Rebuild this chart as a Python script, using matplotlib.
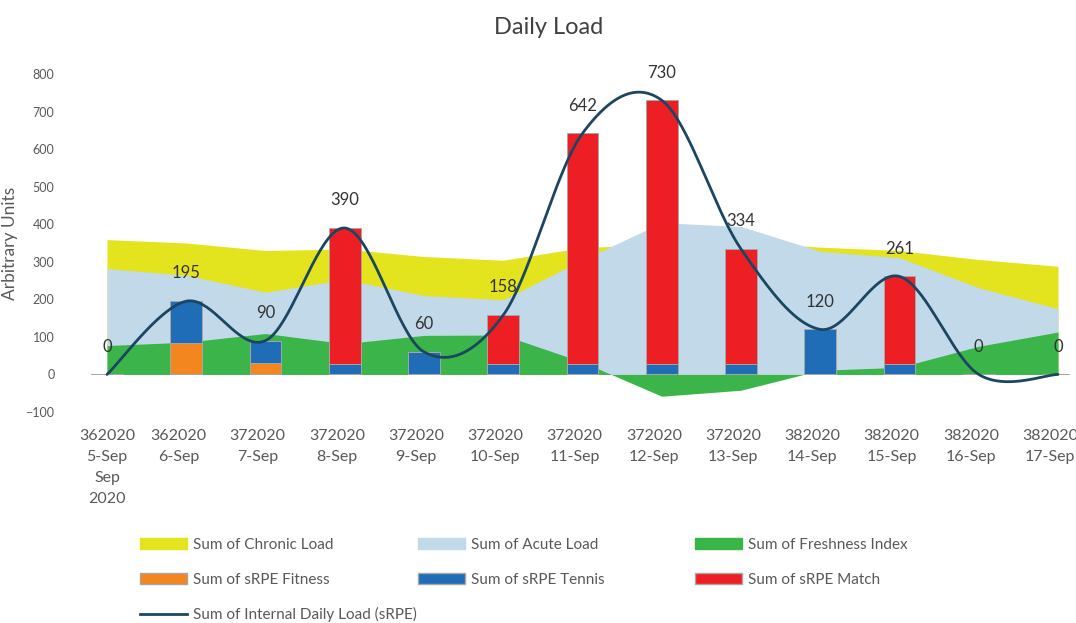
import numpy as np
import matplotlib.pyplot as plt
from matplotlib.patches import Patch
from matplotlib.lines import Line2D

plt.rcParams['font.family'] = ['Lato', 'DejaVu Sans']

##### data
days = ['5-Sep', '6-Sep', '7-Sep', '8-Sep', '9-Sep', '10-Sep', '11-Sep',
        '12-Sep', '13-Sep', '14-Sep', '15-Sep', '16-Sep', '17-Sep']
weeks = ['362020', '362020', '372020', '372020', '372020', '372020', '372020',
         '372020', '372020', '382020', '382020', '382020', '382020']
chronic = [359, 350, 330, 334, 314, 304, 338, 346, 352, 339, 330, 306, 288]
acute = [282, 264, 219, 253, 210, 199, 305, 404, 394, 328, 311, 231, 175]
freshness = [77, 86, 109, 82, 104, 105, 33, -58, -42, 11, 19, 75, 113]
fitness = [0, 85, 30, 0, 0, 0, 0, 0, 0, 0, 0, 0, 0]
tennis = [0, 110, 60, 28, 60, 28, 28, 28, 28, 120, 28, 0, 0]
match = [0, 0, 0, 362, 0, 130, 614, 702, 306, 0, 233, 0, 0]
internal = [0, 195, 90, 390, 60, 158, 642, 730, 334, 120, 261, 0, 0]

c_chronic = '#e3e31e'
c_acute = '#c1d9e8'
c_fresh = '#3bb54a'
c_fit = '#f4861f'
c_ten = '#1f6db6'
c_match = '#ee1f24'
c_line = '#1b4662'
grey = '#595959'


def excel_smooth(x, y, n=40):
    # bezier smoothing like excel's "smoothed line"
    x = np.asarray(x, float)
    y = np.asarray(y, float)
    px = np.concatenate([[x[0]], x, [x[-1]]])
    py = np.concatenate([[y[0]], y, [y[-1]]])
    t = np.linspace(0, 1, n)
    xs, ys = [], []
    for i in range(len(y) - 1):
        out = []
        for p, a in ((px, x), (py, y)):
            p0, p3 = a[i], a[i + 1]
            c1 = p0 + (p[i + 2] - p[i]) / 6
            c2 = p3 - (p[i + 3] - p[i + 1]) / 6
            out.append((1 - t)**3 * p0 + 3 * (1 - t)**2 * t * c1
                       + 3 * (1 - t) * t**2 * c2 + t**3 * p3)
        xs.append(out[0])
        ys.append(out[1])
    return np.concatenate(xs), np.concatenate(ys)


W, H = 1076, 623
fig = plt.figure(figsize=(W / 100, H / 100), dpi=100)
ax = fig.add_axes([60 / W, 1 - 412 / H, (1070 - 60) / W, (412 - 74) / H])

x = np.arange(len(days))
ax.fill_between(x, 0, chronic, color=c_chronic, lw=0, zorder=1)
ax.fill_between(x, 0, acute, color=c_acute, lw=0, zorder=2)
ax.fill_between(x, 0, freshness, color=c_fresh, lw=0, zorder=3)

bw = 0.4
ek = dict(edgecolor='#a6a6a6', linewidth=0.7, zorder=4)
ax.bar(x, fitness, bw, color=c_fit, **ek)
ax.bar(x, tennis, bw, bottom=fitness, color=c_ten, **ek)
ax.bar(x, match, bw, bottom=np.add(fitness, tennis), color=c_match, **ek)

sx, sy = excel_smooth(x, internal)
ax.plot(sx, sy, color=c_line, lw=2, zorder=5, solid_capstyle='round')

for xi, v in zip(x, internal):
    ax.annotate(str(v), (xi, v), xytext=(0, 20), textcoords='offset points',
                ha='center', va='center', fontsize=12, color='#333333', zorder=6)

sp = 79.25
ax.set_xlim((60 - 107) / sp, (1070 - 107) / sp)
ax.set_ylim(-100, 800)
ax.set_yticks(range(-100, 801, 100))
labels = [w + '\n' + d for w, d in zip(weeks, days)]
labels[0] = labels[0] + '\nSep\n2020'
# excel draws the category labels a little left of the points
ax.set_xticks([0] + [xi - 0.1 for xi in x[1:]])
ax.set_xticklabels(labels, fontsize=11.5, color=grey, linespacing=1.65)
ax.tick_params(axis='x', length=0, pad=12)
ax.tick_params(axis='y', length=0, pad=4, labelsize=9, labelcolor=grey)
for s in ax.spines.values():
    s.set_visible(False)
ax.set_ylabel('Arbitrary Units', fontsize=12.5, color=grey)
ax.yaxis.set_label_coords((18 - 60) / (1070 - 60), 0.5)

fig.text(549 / W, 1 - 28 / H, 'Daily Load', ha='center', va='center',
         fontsize=17, color='#404040')

# legend, one column at a time so the columns line up like the original
cols = [
    [(Patch(color=c_chronic), 'Sum of Chronic Load'),
     (Patch(facecolor=c_fit, edgecolor='#a6a6a6'), 'Sum of sRPE Fitness'),
     (Line2D([], [], color=c_line, lw=2), 'Sum of Internal Daily Load (sRPE)')],
    [(Patch(color=c_acute), 'Sum of Acute Load'),
     (Patch(facecolor=c_ten, edgecolor='#a6a6a6'), 'Sum of sRPE Tennis')],
    [(Patch(color=c_fresh), 'Sum of Freshness Index'),
     (Patch(facecolor=c_match, edgecolor='#a6a6a6'), 'Sum of sRPE Match')],
]
for cx, items in zip([140, 418, 695], cols):
    fig.legend([h for h, _ in items], [l for _, l in items],
               loc='upper left', bbox_to_anchor=(cx / W, 1 - 538 / H),
               frameon=False, borderpad=0, borderaxespad=0,
               fontsize=11, labelcolor=grey, handlelength=3.1,
               handleheight=0.75, handletextpad=0.4, labelspacing=1.35)

fig.savefig('out.png', dpi=100)
